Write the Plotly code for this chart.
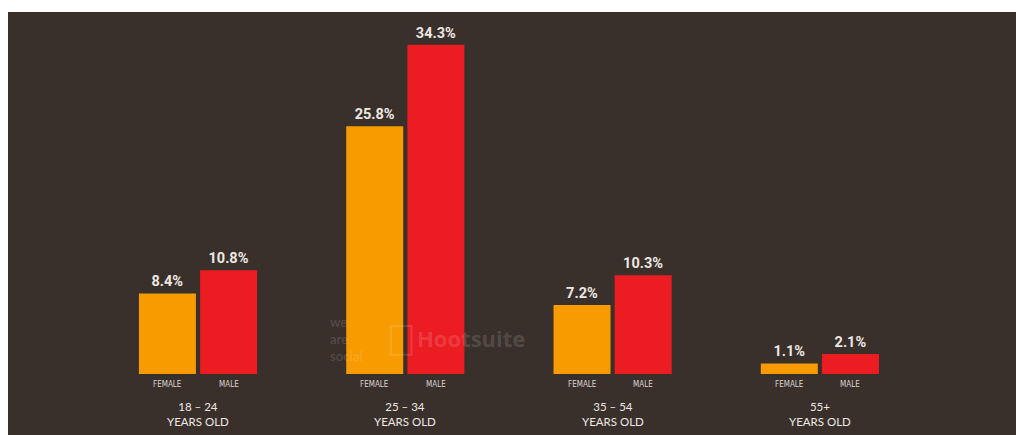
import plotly.graph_objects as go

# Age groups and share of users by gender (%)
age_groups = ["18 – 24", "25 – 34", "35 – 54", "55+"]
female = [8.4, 25.8, 7.2, 1.1]
male = [10.8, 34.3, 10.3, 2.1]
gender_labels = ["FEMALE", "MALE"]

BG = "#3a302b"
FEMALE_COLOR = "#f79b00"
MALE_COLOR = "#eb1c22"
TEXT = "#ece8e4"

xpos = list(range(len(age_groups)))
bar_w = 0.275

value_font = dict(family="Roboto, sans-serif", size=14.5, color=TEXT)

fig = go.Figure()
fig.add_trace(go.Bar(
    x=xpos, y=female, width=bar_w, offset=-0.285,
    marker=dict(color=FEMALE_COLOR, line=dict(width=0)),
    text=[f"<b>{v}%</b>" for v in female], textposition="outside",
    textfont=value_font, cliponaxis=False, hoverinfo="skip", name="FEMALE",
))
fig.add_trace(go.Bar(
    x=xpos, y=male, width=bar_w, offset=0.01,
    marker=dict(color=MALE_COLOR, line=dict(width=0)),
    text=[f"<b>{v}%</b>" for v in male], textposition="outside",
    textfont=value_font, cliponaxis=False, hoverinfo="skip", name="MALE",
))

annotations = []
small_font = dict(family="Liberation Sans Narrow, DejaVu Sans Condensed, sans-serif", size=8, color="#d8d4d0")
group_font = dict(family="Lato, DejaVu Sans, sans-serif", size=11.5, color=TEXT)
for i, g in enumerate(age_groups):
    annotations.append(dict(x=i - 0.285 + bar_w / 2, y=-1.05, text=gender_labels[0],
                            showarrow=False, font=small_font, xref="x", yref="y"))
    annotations.append(dict(x=i + 0.01 + bar_w / 2, y=-1.05, text=gender_labels[1],
                            showarrow=False, font=small_font, xref="x", yref="y"))
    annotations.append(dict(x=i, y=-4.15, text=f"{g}<br>YEARS OLD", showarrow=False,
                            font=group_font, xref="x", yref="y", align="center"))

# Faint watermark
annotations.append(dict(x=0.627, y=3.7, xanchor="left", text="<b>we<br>are<br>social</b>",
                        showarrow=False, align="left",
                        font=dict(family="Lato, DejaVu Sans, sans-serif", size=13,
                                  color="rgba(255,255,255,0.13)"),
                        xref="x", yref="y"))
annotations.append(dict(x=1.315, y=3.75, text="<b>Hootsuite</b>", showarrow=False,
                        font=dict(family="Open Sans, DejaVu Sans, sans-serif", size=22,
                                  color="rgba(255,255,255,0.15)"),
                        xref="x", yref="y"))

fig.update_layout(
    width=1016, height=435,
    margin=dict(l=8, r=0, t=12, b=0),
    paper_bgcolor="white", plot_bgcolor=BG,
    showlegend=False, barmode="overlay",
    annotations=annotations,
    shapes=[dict(type="rect", xref="x", yref="y", x0=0.93, x1=1.03, y0=2.0, y1=5.0,
                 line=dict(color="rgba(255,255,255,0.12)", width=2))],
    xaxis=dict(range=[-0.9166, 3.946], visible=False, fixedrange=True),
    yaxis=dict(range=[-6.35, 37.71], visible=False, fixedrange=True),
)

fig.write_html("out.html")
